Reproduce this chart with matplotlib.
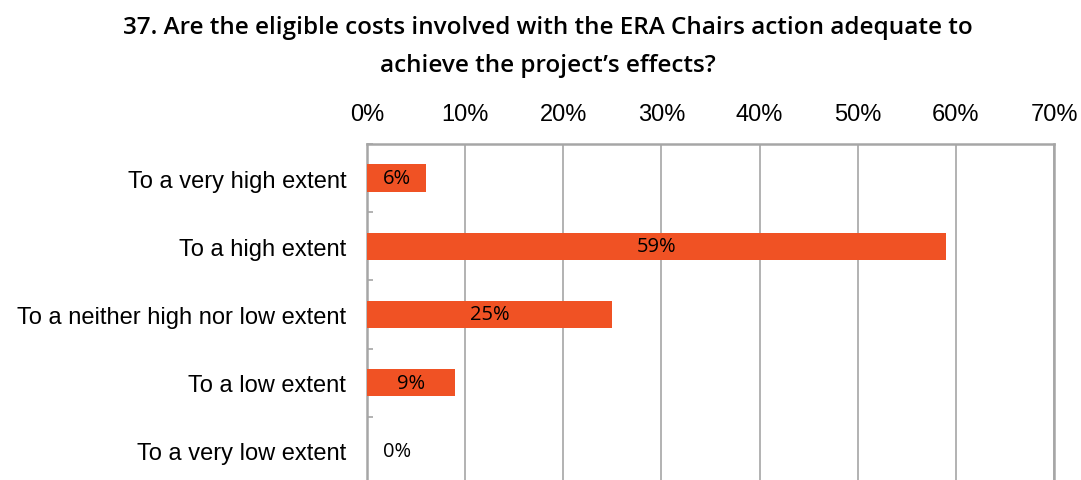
import numpy as np
import matplotlib
matplotlib.use("Agg")
import matplotlib.pyplot as plt
from matplotlib.ticker import FixedLocator

TITLE = "37. Are the eligible costs involved with the ERA Chairs action adequate to\nachieve the project\u2019s effects?"
categories = [
    "To a very high extent",
    "To a high extent",
    "To a neither high nor low extent",
    "To a low extent",
    "To a very low extent",
]
values = [6, 59, 25, 9, 0]
xticks = [0, 10, 20, 30, 40, 50, 60, 70]

BAR_COLOR = "#F05224"
GRID_COLOR = "#A6A6A6"

fig = plt.figure(figsize=(10.81, 4.81), dpi=100)
ax = fig.add_axes([367 / 1081, 1 - 486 / 481, (1054 - 367) / 1081, (486 - 145) / 481])

y = np.arange(len(categories))
ax.barh(y, values, height=0.4, color=BAR_COLOR, zorder=3)
ax.set_ylim(len(categories) - 0.5, -0.5)
ax.set_xlim(0, 70)

ax.set_yticks(y)
ax.set_yticklabels(categories, fontsize=17, family="Liberation Sans")
ax.tick_params(axis="y", length=0, pad=15)
ax.yaxis.set_minor_locator(FixedLocator(np.arange(-0.5, len(categories), 1.0)))
ax.tick_params(axis="y", which="minor", direction="in", length=4, color=GRID_COLOR, width=1.2)

ax.xaxis.tick_top()
ax.set_xticks(xticks)
ax.set_xticklabels([f"{t}%" for t in xticks], fontsize=17, family="Liberation Sans")
ax.tick_params(axis="x", length=0, pad=14)
ax.grid(axis="x", color=GRID_COLOR, lw=1.2, zorder=0)

for s in ax.spines.values():
    s.set_color(GRID_COLOR)
    s.set_linewidth(1.8)

for yi, v in zip(y, values):
    if v > 0:
        ax.text(v / 2, yi, f"{v}%", ha="center", va="center", fontsize=14.5,
                family="Open Sans", color="black", zorder=4)
    else:
        ax.annotate(f"{v}%", xy=(0, yi), xytext=(22, 0), textcoords="offset points",
                    ha="center", va="center", fontsize=14.5, family="Open Sans")

fig.text(0.507, 0.902, TITLE, ha="center", va="center", fontsize=17.5,
         family="Open Sans", weight="semibold", linespacing=1.75)

fig.savefig("out.png", dpi=100)
